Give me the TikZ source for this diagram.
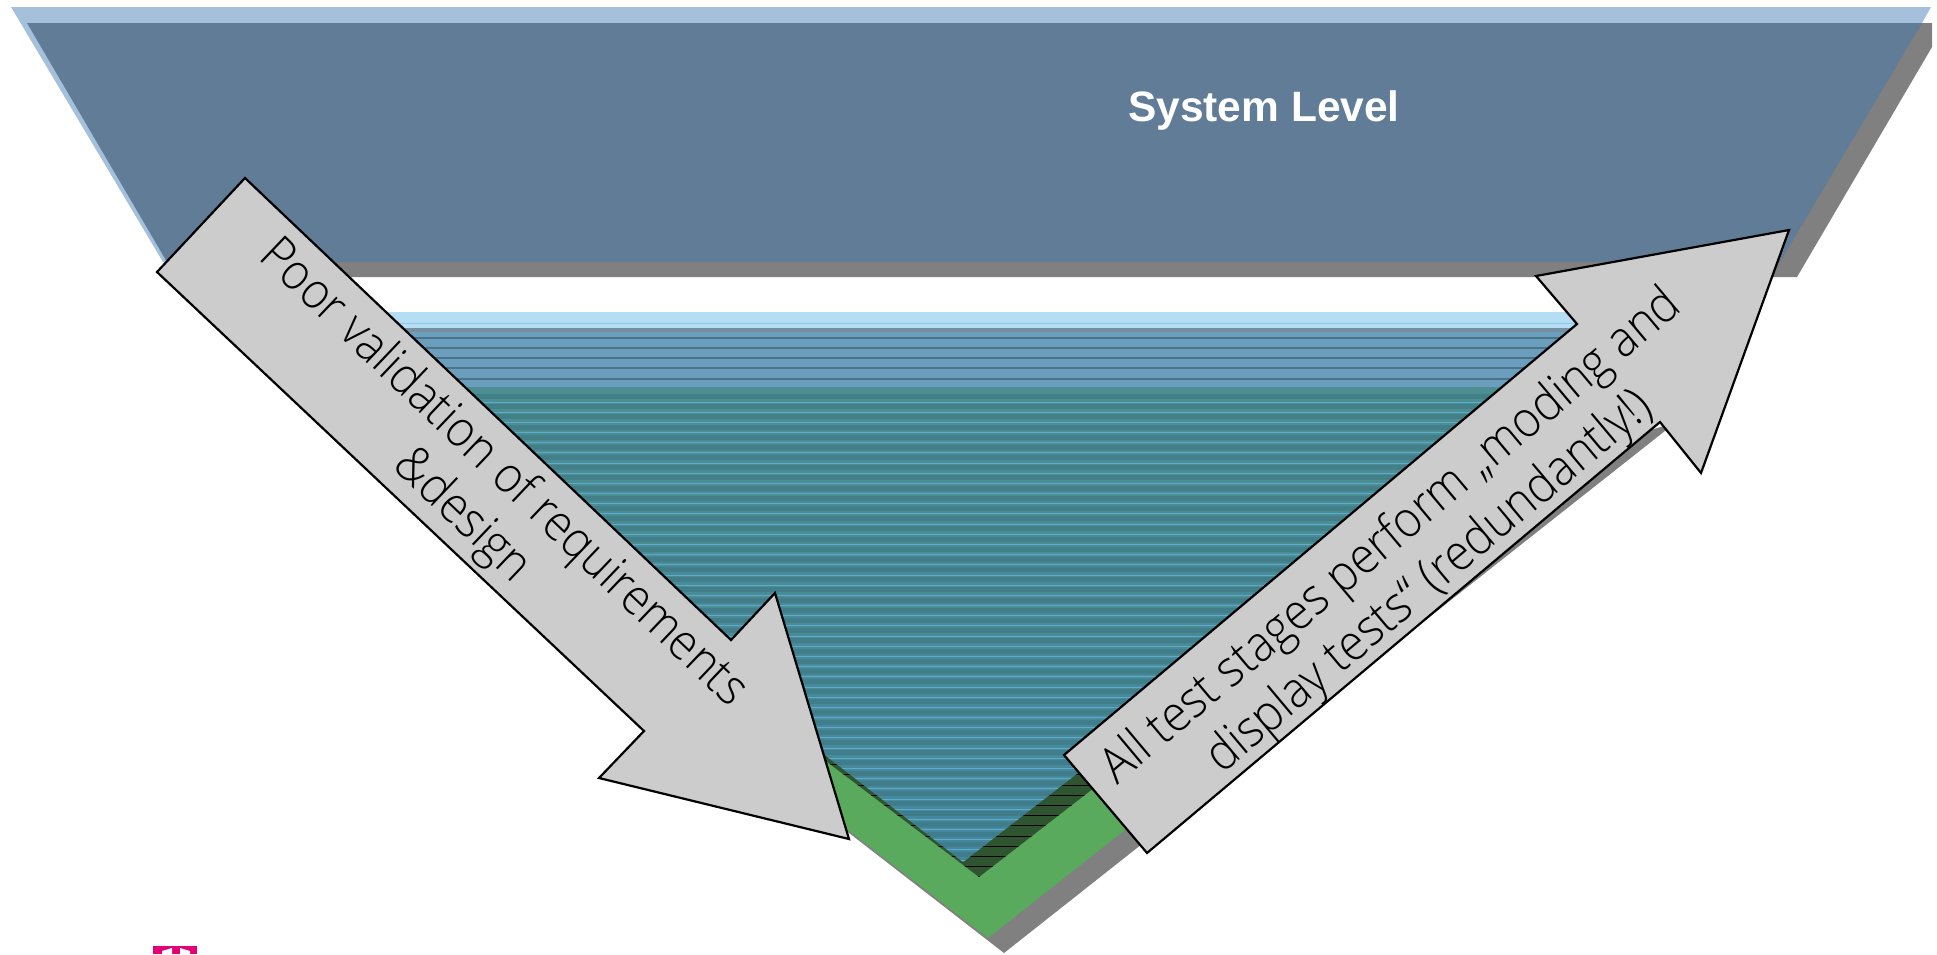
\documentclass[tikz,border=0pt]{standalone}
\usepackage{fontspec}
\setmainfont{Liberation Sans}
\newfontfamily\arrowfont[UprightFont={* Light},FakeStretch=0.92]{Open Sans}
\usetikzlibrary{positioning}
\definecolor{bandblue}{HTML}{617C97}
\definecolor{bandlight}{HTML}{A5C0DA}
\definecolor{shadowgrey}{HTML}{808080}
\definecolor{skylight}{HTML}{B5DDF3}
\definecolor{skyline}{HTML}{8CC8E8}
\definecolor{midblue}{HTML}{6A9EBC}
\definecolor{midline}{HTML}{4A7389}
\definecolor{tealtop}{HTML}{4D8E92}
\definecolor{tealbottom}{HTML}{47879C}
\definecolor{tealdark}{HTML}{3A7580}
\definecolor{tealline}{HTML}{5AADD0}
\definecolor{levelgreen}{HTML}{5AAA5E}
\definecolor{greendark}{HTML}{2F5430}
\definecolor{logopink}{HTML}{E20074}

\begin{document}
\begin{tikzpicture}[
    x=1pt, y=-1pt,
    flatshape/.style={fill=#1, draw=none},
    callout/.style={fill=black!20, draw=black, line width=2.2pt, line join=miter},
    calloutlabel/.style={font=\arrowfont\fontsize{50}{59}\selectfont, align=center, inner sep=0pt},
    levellabel/.style={font=\bfseries\fontsize{42.5}{50}\selectfont, text=white, inner sep=0pt}
]
\useasboundingbox (0,0) rectangle (1937,954);

% System level band
\fill[flatshape=shadowgrey] (1000,23) -- (1932,23) -- (1932,47) -- (1797,277) -- (180,277) -- (167,262) -- cycle;
\fill[flatshape=bandlight] (11,7) -- (1931,7) -- (1922,23) -- (167,262) -- (163,262) -- cycle;
\fill[flatshape=bandblue] (27,23) -- (1922,23) -- (1780,262) -- (167,262) -- cycle;
\node[levellabel] (SystemLevel) at (1264,111) {System Level};

% Green level with its shadow
\fill[flatshape=shadowgrey] (720,733) -- (1004,953) -- (1675,423) -- (1400,500) -- cycle;
\fill[flatshape=levelgreen] (700,716) -- (988,938) -- (1647,418) -- (1300,500) -- cycle;
\begin{scope}
    \clip (253,327) -- (979,877) -- (1689,327) -- cycle;
    \fill[greendark] (253,327) rectangle (1689,877);
    \foreach \row in {0,...,54}
        \draw[black, line width=1pt] (253,{327+10.18*\row}) -- (1689,{327+10.18*\row});
\end{scope}

% Lower triangle
\begin{scope}
    \clip (253,312) -- (1673,312) -- (963,862) -- cycle;
    \fill[flatshape=skylight] (253,312) rectangle (1673,328);
    \draw[skyline, line width=1pt] (253,323) -- (1673,323);
    \fill[flatshape=midblue] (253,328) rectangle (1673,387);
    \fill[shadowgrey!50!midblue] (253,328) rectangle (1673,332);
    \foreach \row in {338,348,358,368,379}
        \draw[midline, line width=1.2pt] (253,\row) -- (1673,\row);
    \shade[top color=tealtop, bottom color=tealbottom] (253,387) rectangle (1673,862);
    \foreach \row in {0,...,46} {
        \fill[tealdark, opacity=.55] (253,{394+10.18*\row}) rectangle (1673,{399+10.18*\row});
        \draw[tealline, line width=1pt] (253,{402+10.18*\row}) -- (1673,{402+10.18*\row});
    }
\end{scope}

% Callout arrows
\draw[callout] (245,178) -- (731,640) -- (775,593) -- (849,839) -- (599,778) -- (644,731) -- (157,272) -- cycle;
\draw[callout] (1064,755) -- (1577,324) -- (1536,276) -- (1789,230) -- (1701,473) -- (1660,422) -- (1147,853) -- cycle;
\node[calloutlabel, rotate=-43.6] (PoorValidation) at (482,495) {Poor validation of requirements\\\&design};
\node[calloutlabel, rotate=40] (AllStages) at (1411,560) {All test stages perform „moding and\\display tests“ (redundantly!)};

% Logo cut by the lower edge
\fill[flatshape=logopink] (153,946) rectangle (197,954);
\fill[white] (162,954) -- (162,951) -- (172,948) -- (172,954) -- cycle;
\fill[white] (180,954) -- (180,948) -- (190,951) -- (190,954) -- cycle;
\end{tikzpicture}
\end{document}
